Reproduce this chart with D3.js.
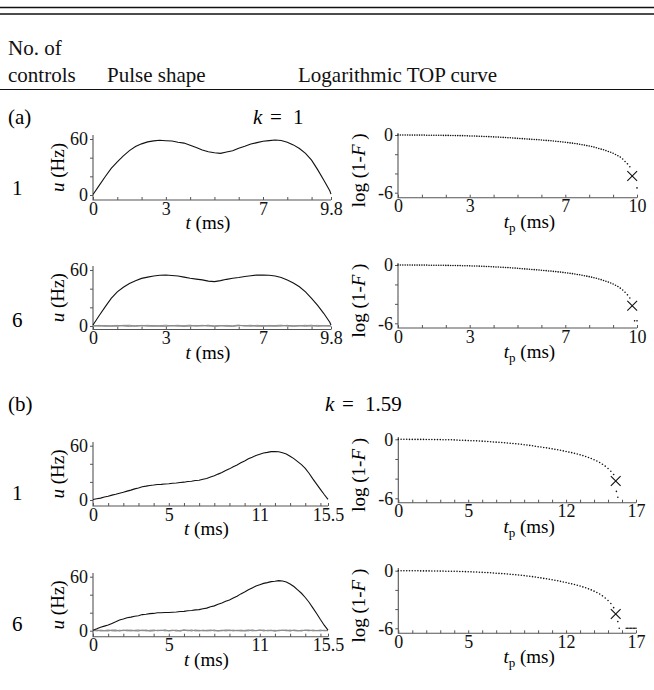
<!DOCTYPE html>
<html>
<head>
<meta charset="utf-8">
<script src="https://cdn.jsdelivr.net/npm/d3@7"></script>
<style>
  body { margin: 0; background: #fff; }
  svg { display: block; }
  svg text { font-family: "Liberation Serif", "DejaVu Serif", serif; }
</style>
</head>
<body>
<svg id="chart" width="654" height="690"></svg>
<script>
// -----------------------------
// Data
// -----------------------------
const U_STEP = 0.25;   // pulse samples every 0.25 ms (last sample = pulse end)

// (a) k = 1, pulse length 9.8 ms
const uK1C1 = [0.5, 10, 19.5, 28.5, 35.5, 42, 47.5, 52, 54.8, 56.9,
  58, 58.6, 58.2, 57.9, 56.6, 55.6, 53.2, 50.8, 48.3, 46.4,
  45.3, 44.6, 46.1, 47.4, 50.2, 52.3, 54.6, 56.1, 57.6, 58.3,
  58.9, 58.4, 56.6, 53.7, 49.8, 44.6, 37.4, 27.2, 16.1, 4.5, 1];

const uK1C6 = [1, 11, 20.5, 29.5, 36.5, 41.5, 45.5, 48.6, 51, 52.4,
  53.5, 54.3, 54.6, 54.1, 53.6, 52.4, 51.1, 50.2, 49.4, 48.1,
  47.6, 48.6, 50, 51.1, 52, 53.1, 53.9, 54.6, 54.5, 54.3,
  53.6, 51.9, 49.2, 46.1, 42, 36.6, 29.6, 22, 13.6, 4, 1];

const uK1C6Others = [
  [0.5, -0.3, 0.6, 0.1, -0.4, 0.8, 0.2, -0.2, 0.7, 0.0,
   -0.5, 0.4, 0.9, -0.1, 0.3, -0.6, 0.5, 0.1, 0.8, -0.3,
   0.2, 0.6, -0.4, 0.3, 1.0, -0.2, 0.4, 0.0, -0.5, 0.7,
   0.2, -0.1, 0.6, -0.4, 0.3, 0.8, -0.2, 0.1, 0.5, -0.3, 0.4],
  [-0.2, 0.4, -0.5, 0.3, 0.7, -0.1, -0.6, 0.5, 0.1, 0.8,
   0.2, -0.4, 0.0, 0.6, -0.3, 0.4, 0.9, -0.2, 0.1, 0.5,
   -0.5, 0.0, 0.7, -0.1, 0.3, 0.6, -0.4, 0.8, 0.2, -0.2,
   0.5, 0.9, -0.3, 0.1, 0.6, -0.5, 0.3, 0.7, -0.1, 0.2, -0.4],
  [0.1, 0.7, 0.2, -0.4, 0.3, 0.5, 0.9, -0.3, 0.4, -0.2,
   0.6, 0.1, -0.5, 0.4, 0.8, 0.0, -0.3, 0.6, 0.2, 0.9,
   -0.1, 0.4, 0.1, -0.5, 0.6, 0.3, 0.8, -0.3, 0.5, 0.1,
   -0.4, 0.3, 0.7, 0.2, -0.1, 0.4, 0.9, -0.4, 0.2, 0.6, 0.0]
];

// (b) k = 1.59, pulse length 15.5 ms
const uK159C1 = [0.5, 1.4, 2.1, 3.3, 4.1, 5.4, 6.3, 7.5, 8.5, 9.8,
  10.9, 12.3, 13.2, 14.6, 15.3, 16.1, 16.5, 17.2, 17.3, 17.7,
  17.9, 18.5, 18.8, 19.4, 19.7, 20.4, 20.7, 21.5, 21.8, 22.9,
  23.7, 25.4, 26.7, 28.6, 30.3, 32.5, 34.4, 36.7, 38.7, 41.1,
  43.1, 45.5, 47.2, 49.2, 50.5, 51.9, 52.6, 53.4, 53.5, 53.3,
  52.2, 50.9, 48.4, 45.7, 42.4, 39.1, 34.9, 29.6, 23.4, 17.6,
  11.8, 6.1, 0.7];

const uK159C6 = [0.5, 2.1, 3.9, 5.1, 6.4, 8.1, 9.9, 11.9, 12.9, 14.3,
  15.1, 16.1, 16.7, 17.9, 18.3, 19, 19.2, 19.9, 19.9, 20.3,
  20.2, 20.5, 20.7, 21.3, 21.5, 22.1, 22.4, 23.1, 23.4, 24.4,
  25.1, 26.6, 27.6, 29.3, 30.7, 32.6, 34.2, 36.4, 38.4, 40.9,
  42.9, 45.4, 47.5, 49.7, 51.1, 52.6, 53.4, 54.5, 54.9, 55.6,
  55.2, 54.1, 51.9, 49.1, 45.4, 41.6, 36.9, 31.6, 25.4, 19.1,
  12.4, 6.1, 0.7];

const uK159C6Others = [
  [0.4, -0.3, 0.7, 0.1, -0.5, 0.6, 0.2, -0.2, 0.8, 0.0,
   -0.4, 0.5, 0.9, -0.1, 0.3, -0.6, 0.4, 0.1, 0.7, -0.3,
   0.2, 0.6, -0.5, 0.3, 0.9, -0.2, 0.5, 0.0, -0.4, 0.7,
   0.1, -0.2, 0.6, -0.5, 0.3, 0.8, -0.1, 0.2, 0.5, -0.4,
   0.4, 0.9, -0.3, 0.1, 0.6, -0.2, 0.3, 0.7, -0.5, 0.2,
   0.5, -0.1, 0.8, 0.0, -0.4, 0.6, 0.3, -0.2, 0.7, 0.1,
   -0.3, 0.5, 0.2],
  [-0.1, 0.5, -0.4, 0.2, 0.8, -0.2, -0.5, 0.6, 0.0, 0.9,
   0.3, -0.3, 0.1, 0.7, -0.4, 0.5, 0.8, -0.1, 0.2, 0.6,
   -0.4, 0.1, 0.7, -0.2, 0.4, 0.6, -0.5, 0.9, 0.2, -0.1,
   0.5, 0.8, -0.3, 0.0, 0.6, -0.4, 0.3, 0.7, -0.2, 0.1,
   -0.5, 0.4, 0.8, -0.1, 0.3, 0.9, -0.3, 0.2, 0.5, -0.2,
   0.6, 0.1, -0.4, 0.7, 0.3, -0.1, 0.5, 0.8, -0.3, 0.2,
   0.6, -0.2, 0.1],
  [0.2, 0.8, 0.1, -0.3, 0.4, 0.6, 0.9, -0.4, 0.3, -0.1,
   0.7, 0.2, -0.5, 0.5, 0.8, -0.1, -0.3, 0.6, 0.1, 0.9,
   0.0, 0.4, 0.2, -0.5, 0.7, 0.3, 0.8, -0.2, 0.5, 0.0,
   -0.3, 0.4, 0.6, 0.1, -0.2, 0.5, 0.9, -0.4, 0.3, 0.7,
   0.1, -0.3, 0.6, 0.2, 0.8, -0.1, 0.4, 0.0, -0.4, 0.6,
   0.3, 0.9, -0.2, 0.5, 0.1, -0.3, 0.7, 0.2, 0.4, -0.1,
   0.5, 0.3, 0.0]
];

// log(1-F) vs t_p
const topK1C1 = [0, 0, 0, 0, 0, -0.01, -0.01, -0.01, -0.01, -0.01,
  -0.01, -0.01, -0.02, -0.02, -0.02, -0.02, -0.03, -0.03, -0.03, -0.04,
  -0.04, -0.04, -0.05, -0.05, -0.06, -0.06, -0.07, -0.07, -0.08, -0.09,
  -0.10, -0.10, -0.11, -0.12, -0.13, -0.14, -0.15, -0.16, -0.17, -0.18,
  -0.20, -0.21, -0.22, -0.23, -0.25, -0.26, -0.28, -0.29, -0.31, -0.33,
  -0.35, -0.36, -0.38, -0.40, -0.41, -0.43, -0.45, -0.47, -0.48, -0.50,
  -0.52, -0.54, -0.56, -0.58, -0.60, -0.63, -0.65, -0.68, -0.70, -0.73,
  -0.76, -0.79, -0.82, -0.85, -0.89, -0.92, -0.96, -1.01, -1.05, -1.10,
  -1.15, -1.20, -1.26, -1.33, -1.40, -1.47, -1.54, -1.62, -1.71, -1.80,
  -1.90, -2.02, -2.15, -2.30, -2.50, -2.75, -3.00, -3.30];
const topK1C1Tail = [[10.0, -5.5]];
const topK1C1Cross = [9.8, -4.27];

const topK1C6 = [0, 0, 0, 0, 0, 0, -0.01, -0.01, -0.01, -0.01,
  -0.01, -0.01, -0.01, -0.02, -0.02, -0.02, -0.02, -0.03, -0.03, -0.03,
  -0.04, -0.04, -0.05, -0.05, -0.05, -0.06, -0.06, -0.07, -0.08, -0.08,
  -0.09, -0.10, -0.11, -0.11, -0.12, -0.13, -0.14, -0.15, -0.16, -0.18,
  -0.19, -0.20, -0.21, -0.23, -0.24, -0.26, -0.27, -0.29, -0.31, -0.32,
  -0.34, -0.36, -0.38, -0.40, -0.42, -0.44, -0.46, -0.48, -0.50, -0.52,
  -0.54, -0.56, -0.58, -0.61, -0.63, -0.66, -0.68, -0.71, -0.73, -0.76,
  -0.79, -0.82, -0.86, -0.89, -0.93, -0.97, -1.01, -1.06, -1.10, -1.15,
  -1.20, -1.25, -1.31, -1.37, -1.44, -1.51, -1.59, -1.67, -1.76, -1.86,
  -1.96, -2.08, -2.22, -2.38, -2.57, -2.80, -3.07, -3.40];
const topK1C6Tail = [[9.9, -5.75], [10.0, -5.75]];
const topK1C6Cross = [9.8, -4.2];

const topK159C1 = [0, 0, 0, 0, -0.01, -0.01, -0.01, -0.01, -0.01, -0.01,
  -0.02, -0.02, -0.02, -0.03, -0.03, -0.03, -0.04, -0.04, -0.05, -0.05,
  -0.06, -0.08, -0.09, -0.10, -0.11, -0.13, -0.14, -0.15, -0.16, -0.17,
  -0.19, -0.21, -0.23, -0.25, -0.27, -0.29, -0.31, -0.33, -0.35, -0.37,
  -0.40, -0.42, -0.45, -0.48, -0.51, -0.55, -0.58, -0.62, -0.66, -0.70,
  -0.75, -0.79, -0.83, -0.87, -0.92, -0.97, -1.02, -1.07, -1.12, -1.18,
  -1.24, -1.30, -1.36, -1.43, -1.50, -1.58, -1.66, -1.75, -1.85, -1.96,
  -2.08, -2.21, -2.36, -2.53, -2.73, -2.97, -3.25, -3.58];
const topK159C1Tail = [[15.6, -5.3], [15.7, -5.9]];
const topK159C1Cross = [15.55, -4.24];

const topK159C6 = [0, 0, 0, 0, -0.01, -0.01, -0.01, -0.01, -0.02, -0.02,
  -0.02, -0.02, -0.03, -0.03, -0.03, -0.04, -0.04, -0.05, -0.05, -0.06,
  -0.06, -0.07, -0.08, -0.09, -0.10, -0.11, -0.12, -0.13, -0.14, -0.16,
  -0.17, -0.19, -0.20, -0.22, -0.24, -0.26, -0.28, -0.30, -0.32, -0.34,
  -0.37, -0.39, -0.42, -0.45, -0.48, -0.51, -0.55, -0.58, -0.62, -0.66,
  -0.71, -0.75, -0.80, -0.84, -0.89, -0.94, -0.99, -1.05, -1.11, -1.17,
  -1.23, -1.30, -1.37, -1.44, -1.52, -1.60, -1.69, -1.78, -1.89, -2.00,
  -2.13, -2.27, -2.43, -2.62, -2.84, -3.10, -3.42, -3.85];
const topK159C6Tail = [[15.7, -5.3], [15.8, -6], [16.3, -6], [16.4, -6], [16.5, -6],
  [16.6, -6], [16.7, -6], [16.8, -6], [16.9, -6], [17.0, -6]];
const topK159C6Cross = [15.55, -4.5];

// tick labels
const pulseLabelsA = [0, 3, 7, 9.8];
const pulseLabelsB = [0, 5, 11, 15.5];
const topLabelsA = [0, 3, 7, 10];
const topLabelsB = [0, 5, 12, 17];
const uTicks = [0, 20, 40, 60];
const uLabels = [0, 60];
const logTicks = [0, -2, -4, -6];
const logLabels = [0, -6];

// -----------------------------
// Setup
// -----------------------------
const AXIS_COLOR = "#555";
const svg = d3.select("#chart");

const minorTicks = end => {
  const t = d3.range(0, Math.floor(end) + 1);
  if (end % 1 !== 0) t.push(end);
  return t;
};

const fmtTick = labels => d => {
  if (!labels.includes(d)) return "";
  return d < 0 ? "-" + Math.abs(d) : String(d);
};

function styleAxis(g) {
  g.select(".domain").remove();
  g.selectAll(".tick line").attr("stroke", AXIS_COLOR);
  g.selectAll(".tick text").style("font-size", "18px").attr("fill", "#111");
}

function frame(x0, x1, axisY, top) {
  svg.append("path")
    .attr("d", `M${x1},${axisY}H${x0}V${top}`)
    .attr("fill", "none")
    .attr("stroke", AXIS_COLOR)
    .attr("stroke-width", 1.1);
}

// -----------------------------
// Pulse-shape panels
// -----------------------------
function drawPulse(p) {
  const times = p.main.map((_, i) => i === p.main.length - 1 ? p.end : i * U_STEP);
  const x = d3.scaleLinear().domain([0, p.end]).range(p.x);
  const y = d3.scaleLinear().domain([0, 60]).range([p.y0, p.y60]);

  frame(p.x[0], p.x[1], p.axisY, p.top);

  svg.append("g")
    .attr("transform", `translate(0,${p.axisY})`)
    .call(d3.axisBottom(x).tickValues(minorTicks(p.end)).tickSizeInner(-3)
      .tickSizeOuter(0).tickPadding(2).tickFormat(fmtTick(p.labels)))
    .call(styleAxis);

  svg.append("g")
    .attr("transform", `translate(${p.x[0]},0)`)
    .call(d3.axisLeft(y).tickValues(uTicks).tickSize(3).tickPadding(2)
      .tickFormat(fmtTick(uLabels)))
    .call(styleAxis);

  const line = d3.line().x((d, i) => x(times[i])).y(d => y(d));

  p.others.forEach(s => {
    svg.append("path")
      .datum(s)
      .attr("d", line)
      .attr("fill", "none")
      .attr("stroke", "#8a8a8a")
      .attr("stroke-width", 0.9);
  });

  svg.append("path")
    .datum(p.main)
    .attr("d", line)
    .attr("fill", "none")
    .attr("stroke", "#111")
    .attr("stroke-width", 1.1);

  // axis titles
  const xt = svg.append("text")
    .attr("x", (p.x[0] + p.x[1]) / 2 - 4)
    .attr("y", p.axisY + 29)
    .attr("text-anchor", "middle")
    .style("font-size", "19px");
  xt.append("tspan").style("font-style", "italic").text("t");
  xt.append("tspan").text(" (ms)");

  const yt = svg.append("text")
    .attr("transform", `translate(64,${(p.axisY + p.top) / 2}) rotate(-90)`)
    .attr("text-anchor", "middle")
    .style("font-size", "19px");
  yt.append("tspan").style("font-style", "italic").text("u");
  yt.append("tspan").text(" (Hz)");
}

// -----------------------------
// Logarithmic TOP panels
// -----------------------------
function drawTop(p) {
  const x = d3.scaleLinear().domain([0, p.end]).range(p.x);
  const y = d3.scaleLinear().domain([0, -6]).range([p.y0, p.y6]);

  frame(p.x[0], p.x[1], p.axisY, p.top);

  svg.append("g")
    .attr("transform", `translate(0,${p.axisY})`)
    .call(d3.axisBottom(x).tickValues(minorTicks(p.end)).tickSizeInner(-3)
      .tickSizeOuter(0).tickPadding(2).tickFormat(fmtTick(p.labels)))
    .call(styleAxis);

  svg.append("g")
    .attr("transform", `translate(${p.x[0]},0)`)
    .call(d3.axisLeft(y).tickValues(logTicks).tickSize(3).tickPadding(2)
      .tickFormat(fmtTick(logLabels)))
    .call(styleAxis);

  const pts = p.values.map((v, i) => [i * p.step, v]).concat(p.tail);

  svg.append("g")
    .selectAll("circle")
    .data(pts)
    .join("circle")
    .attr("cx", d => x(d[0]))
    .attr("cy", d => y(d[1]))
    .attr("r", 0.8)
    .attr("fill", "#111");

  svg.append("path")
    .attr("d", d3.symbol(d3.symbolX, 64)())
    .attr("transform", `translate(${x(p.cross[0])},${y(p.cross[1])})`)
    .attr("fill", "none")
    .attr("stroke", "#111")
    .attr("stroke-width", 1.1);

  const xt = svg.append("text")
    .attr("x", (p.x[0] + p.x[1]) / 2 + 12)
    .attr("y", p.axisY + 30)
    .attr("text-anchor", "middle")
    .style("font-size", "19px");
  xt.append("tspan").style("font-style", "italic").text("t");
  xt.append("tspan").style("font-size", "13px").attr("dy", 4).text("p");
  xt.append("tspan").attr("dy", -4).text(" (ms)");

  const yt = svg.append("text")
    .attr("transform", `translate(365,${(p.axisY + p.top) / 2 + 5}) rotate(-90)`)
    .attr("text-anchor", "middle")
    .style("font-size", "19px");
  yt.append("tspan").text("log (1-");
  yt.append("tspan").style("font-style", "italic").text("F");
  yt.append("tspan").text(" )");
}

// -----------------------------
// Header & table rules
// -----------------------------
[7.5, 14].forEach(yy => {
  svg.append("line").attr("x1", 0).attr("x2", 654).attr("y1", yy).attr("y2", yy)
    .attr("stroke", "#111").attr("stroke-width", 1.3);
});
svg.append("line").attr("x1", 0).attr("x2", 654).attr("y1", 89.5).attr("y2", 89.5)
  .attr("stroke", "#111").attr("stroke-width", 1);

const header = [
  { text: "No. of", x: 8, y: 55 },
  { text: "controls", x: 8, y: 82 },
  { text: "Pulse shape", x: 107, y: 82 },
  { text: "Logarithmic TOP curve", x: 298, y: 82 }
];
header.forEach(h => {
  svg.append("text").attr("x", h.x).attr("y", h.y).style("font-size", "21px")
    .attr("fill", "#111").text(h.text);
});

function sectionLabel(tag, kVal, y, kx) {
  svg.append("text").attr("x", 8).attr("y", y).style("font-size", "21px").text(tag);
  svg.append("text").attr("x", kx).attr("y", y).style("font-size", "21px")
    .style("font-style", "italic").text("k");
  svg.append("text").attr("x", kx + 17).attr("y", y).style("font-size", "21px").text("=");
  svg.append("text").attr("x", kx + 40).attr("y", y).style("font-size", "21px").text(kVal);
}
sectionLabel("(a)", "1", 124, 253);
sectionLabel("(b)", "1.59", 411, 325);

const rowLabels = [
  { text: "1", y: 195 }, { text: "6", y: 327 },
  { text: "1", y: 500 }, { text: "6", y: 631 }
];
rowLabels.forEach(r => {
  svg.append("text").attr("x", 12).attr("y", r.y).style("font-size", "21px").text(r.text);
});

// -----------------------------
// Panels
// -----------------------------
drawPulse({ main: uK1C1, others: [], end: 9.8, labels: pulseLabelsA,
  x: [93, 331], y0: 195, y60: 139, axisY: 200, top: 135 });
drawPulse({ main: uK1C6, others: uK1C6Others, end: 9.8, labels: pulseLabelsA,
  x: [93, 331], y0: 326, y60: 270, axisY: 329.5, top: 266 });
drawPulse({ main: uK159C1, others: [], end: 15.5, labels: pulseLabelsB,
  x: [93, 328], y0: 500, y60: 445.7, axisY: 506, top: 442 });
drawPulse({ main: uK159C6, others: uK159C6Others, end: 15.5, labels: pulseLabelsB,
  x: [93, 328], y0: 630.7, y60: 576.7, axisY: 636.7, top: 573 });

drawTop({ values: topK1C1, step: 0.1, tail: topK1C1Tail, cross: topK1C1Cross,
  end: 10, labels: topLabelsA, x: [398, 637], y0: 135, y6: 192.7, axisY: 197.7, top: 133 });
drawTop({ values: topK1C6, step: 0.1, tail: topK1C6Tail, cross: topK1C6Cross,
  end: 10, labels: topLabelsA, x: [398, 637], y0: 265, y6: 323.3, axisY: 328, top: 263 });
drawTop({ values: topK159C1, step: 0.2, tail: topK159C1Tail, cross: topK159C1Cross,
  end: 17, labels: topLabelsB, x: [398.3, 636], y0: 439.3, y6: 498.3, axisY: 502.7, top: 437 });
drawTop({ values: topK159C6, step: 0.2, tail: topK159C6Tail, cross: topK159C6Cross,
  end: 17, labels: topLabelsB, x: [398.3, 636], y0: 570.7, y6: 628.3, axisY: 633.3, top: 568 });
</script>
</body>
</html>
